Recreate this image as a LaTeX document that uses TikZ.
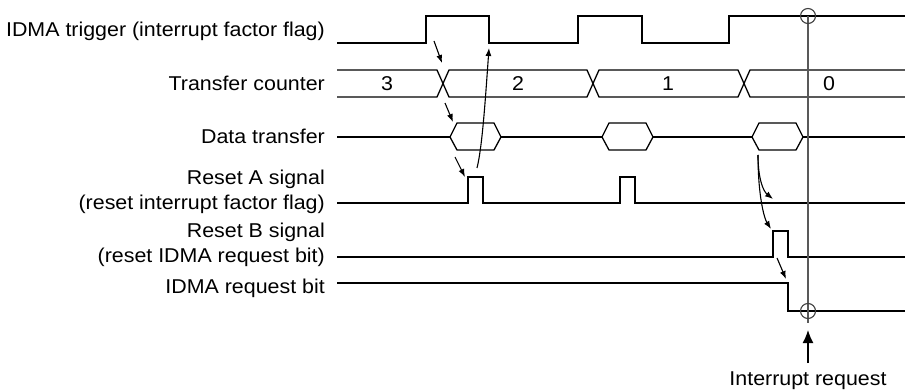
\documentclass[tikz,border=0pt]{standalone}
\usepackage{fontspec}
\setmainfont{Liberation Sans}[FakeStretch=1.07]
\usetikzlibrary{arrows.meta}
\tikzset{
  sigline/.style={line width=1.3pt, line join=miter},
  siglabel/.style={anchor=base east, inner sep=0pt, font=\fontsize{20}{24}\selectfont},
  buslabel/.style={anchor=base, inner sep=0pt, font=\fontsize{20}{24}\selectfont},
  cause/.style={-{Latex[length=8pt,width=6pt]}, line width=1.1pt},
  markline/.style={line width=1.5pt, draw=black!65},
}

\begin{document}
\begin{tikzpicture}[x=1pt, y=-1pt]
  \useasboundingbox (0,0) rectangle (905,390);
  % signal names
  \node[siglabel] (lTrig) at (325,37) {IDMA trigger (interrupt factor flag)};
  \node[siglabel] (lCnt) at (325,91) {Transfer counter};
  \node[siglabel] (lXfer) at (325,144) {Data transfer};
  \node[siglabel] (lRstA) at (325,185) {Reset A signal};
  \node[siglabel] (lRstAx) at (325,210) {(reset interrupt factor flag)};
  \node[siglabel] (lRstB) at (325,237) {Reset B signal};
  \node[siglabel] (lRstBx) at (325,262) {(reset IDMA request bit)};
  \node[siglabel] (lReq) at (325,293) {IDMA request bit};
  % IDMA trigger
  \draw[sigline] (337,43) -- (426,43) -- (426,16) -- (489,16) -- (489,43) -- (578,43)
    -- (578,16) -- (642,16) -- (642,43) -- (729,43) -- (729,16) -- (905,16);
  % transfer counter
  \draw[sigline] (337,70) -- (437,70) -- (449,97) -- (587,97) -- (599,70) -- (738,70) -- (750,97) -- (905,97);
  \draw[sigline] (337,97) -- (437,97) -- (449,70) -- (587,70) -- (599,97) -- (738,97) -- (750,70) -- (905,70);
  \node[buslabel] (cnt3) at (387,91) {3};
  \node[buslabel] (cnt2) at (518,91) {2};
  \node[buslabel] (cnt1) at (668,91) {1};
  \node[buslabel] (cnt0) at (829,91) {0};
  % data transfer
  \draw[sigline] (337,137) -- (450,137) (501,137) -- (602,137) (653,137) -- (752,137) (803,137) -- (905,137);
  \foreach \x in {450,602,752}
    \draw[sigline] (\x,137) -- ++(7,-14) -- ++(37,0) -- ++(7,14) -- ++(-7,13) -- ++(-37,0) -- cycle;
  % reset A
  \draw[sigline] (337,203) -- (468,203) -- (468,177) -- (483,177) -- (483,203) -- (620,203)
    -- (620,177) -- (635,177) -- (635,203) -- (905,203);
  % reset B
  \draw[sigline] (337,257) -- (773,257) -- (773,231) -- (788,231) -- (788,257) -- (905,257);
  % IDMA request bit
  \draw[sigline] (337,283) -- (788,283) -- (788,311) -- (905,311);
  % interrupt point
  \draw[markline] (808,16) -- (808,323);
  \draw[line width=1.1pt, black!75] (808,16) circle[radius=7.5];
  \draw[line width=1.1pt, black!75] (808,311) circle[radius=7.5];
  % cause arrows
  \coordinate (trigA) at (434,41);
  \coordinate (cntX1) at (442,63);
  \coordinate (cntA) at (445,103);
  \coordinate (xferH1) at (453,122);
  \coordinate (xferB1) at (455,157);
  \coordinate (rstAp1) at (465,177);
  \coordinate (rstAtop) at (477,168);
  \coordinate (trigFall1) at (489,48);
  \coordinate (xferB3) at (758,155);
  \coordinate (rstAlow) at (773,199);
  \coordinate (rstBp) at (771,229);
  \coordinate (rstBfall) at (777,258);
  \coordinate (reqFall) at (786,279);
  \draw[cause] (trigA) -- (cntX1);
  \draw[cause] (cntA) -- (xferH1);
  \draw[cause] (xferB1) -- (rstAp1);
  \draw[cause] (rstAtop) .. controls (482,148) and (485,105) .. (trigFall1);
  \draw[cause] (xferB3) .. controls (758,178) and (763,191) .. (rstAlow);
  \draw[cause] (xferB3) .. controls (758,195) and (764,218) .. (rstBp);
  \draw[cause] (rstBfall) -- (reqFall);
  % interrupt request
  \coordinate (irqTail) at (808,363);
  \coordinate (irqHead) at (808,330);
  \draw[-{Latex[length=13pt,width=11pt]}, line width=1.4pt] (irqTail) -- (irqHead);
  \node[buslabel] (lIrq) at (808,385) {Interrupt request};
\end{tikzpicture}
\end{document}
